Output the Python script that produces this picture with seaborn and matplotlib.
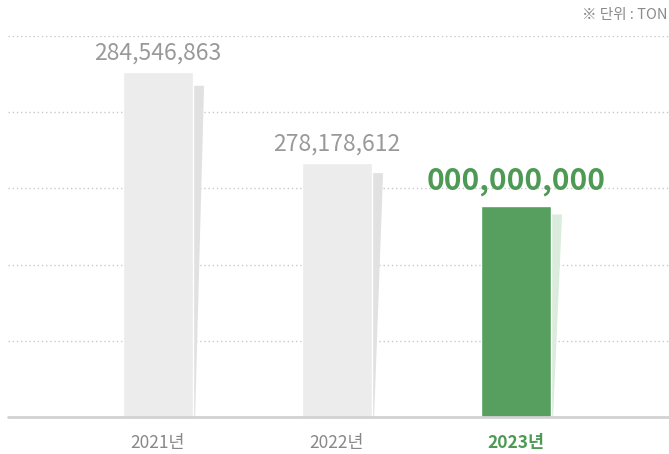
import numpy as np
import pandas as pd
import seaborn as sns
import matplotlib.pyplot as plt

# data
years = ['2021년', '2022년', '2023년']
values = [284546863, 278178612, 275170000]   # 2023 bar height estimated
value_labels = ['284,546,863', '278,178,612', '000,000,000']
bar_colors = ['#ececec', '#ececec', '#569f5e']
shadow_colors = ['#e1e1e1', '#e1e1e1', '#dbebdc']

y_min = 260403000
y_max = 287066000

df = pd.DataFrame({'year': years, 'value': values})

sns.set_theme(style='white')
plt.rcParams['font.family'] = ['Noto Sans CJK KR', 'DejaVu Sans']

W, H = 669, 454
fig = plt.figure(figsize=(W / 100, H / 100), dpi=100)
ax = fig.add_axes([8 / W, (H - 417) / H, (W - 8) / W, (417 - 36) / H])

sns.barplot(data=df, x='year', y='value', hue='year', palette=bar_colors,
            width=0.391, legend=False, ax=ax, zorder=3, saturation=1)

ax.set_xlim(-0.838, 2.855)
ax.set_ylim(y_min, y_max)

# shadows behind each bar
bw = 0.391
for i, v in enumerate(values):
    top = y_min + 0.96 * (v - y_min)
    x0 = i + bw / 2
    ax.fill([x0, x0 + 0.062, x0 + 0.012, x0], [top, top, y_min, y_min],
            color=shadow_colors[i], zorder=2, lw=0)

# dotted grid
for t in np.linspace(y_min, y_max, 6)[1:]:
    ax.axhline(t, color='#c9c9c9', lw=1, ls=(0, (1, 2)), zorder=1)
ax.axhline(y_min, color='#d2d2d2', lw=2, zorder=4, clip_on=False)

# value labels
for i, (v, lab) in enumerate(zip(values, value_labels)):
    if i == 2:
        ax.annotate(lab, (i, v), xytext=(0, 11.5), textcoords='offset points',
                    ha='center', va='baseline', fontsize=21.5, fontweight='bold',
                    color='#4e9a55', zorder=5)
    else:
        ax.annotate(lab, (i, v), xytext=(0, 8.6), textcoords='offset points',
                    ha='center', va='baseline', fontsize=16.5,
                    color='#999999', zorder=5)

ax.set_xticks(range(len(years)))
ax.set_xticklabels(years, fontsize=12.5, color='#888888')
tl = ax.get_xticklabels()
tl[2].set_color('#4e9a55')
tl[2].set_fontweight('bold')
ax.tick_params(axis='x', length=0, pad=12.5)
ax.set_yticks([])
ax.set_xlabel('')
ax.set_ylabel('')
for s in ax.spines.values():
    s.set_visible(False)

fig.text(0.998, 1 - 15 / H, '※ 단위 : TON', ha='right', va='center',
         fontsize=10.5, color='#8a8a8a')

fig.savefig('out.png', dpi=100)
